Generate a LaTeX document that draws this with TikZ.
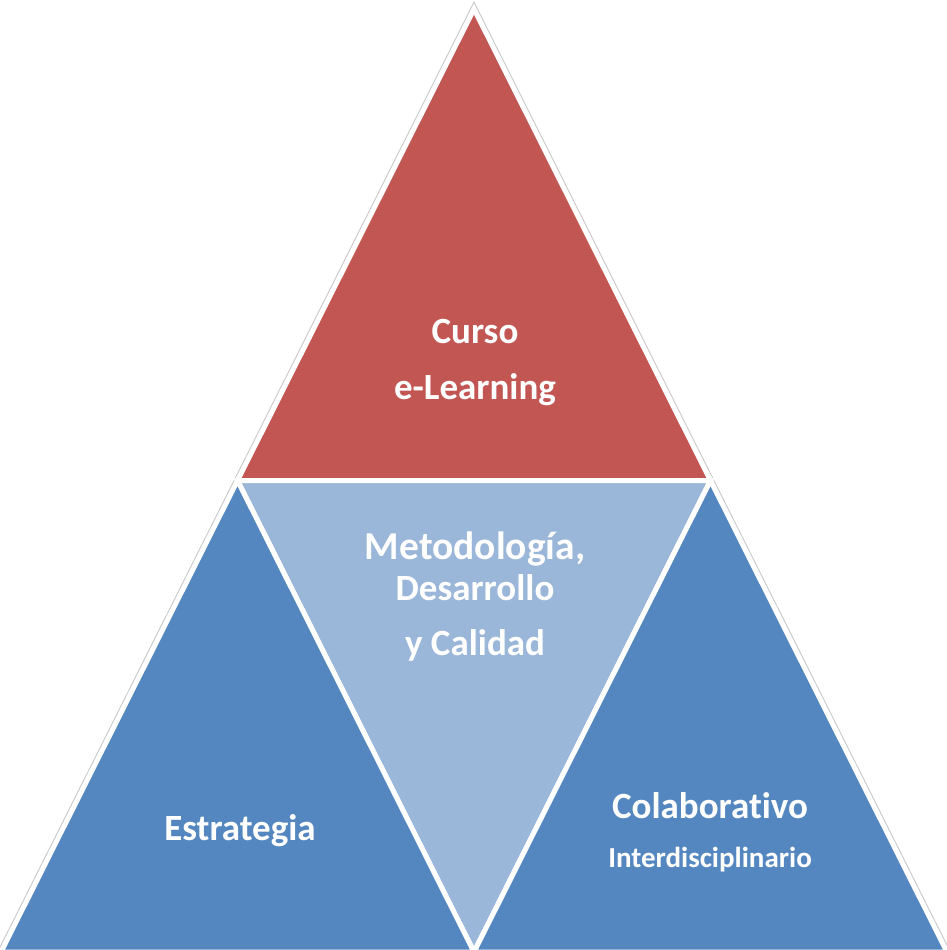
\documentclass[tikz,border=0pt]{standalone}
\usepackage{fontspec}
\setmainfont{Carlito}[Ligatures=NoCommon]
\usetikzlibrary{calc}
\definecolor{cred}{RGB}{194,86,83}
\definecolor{cblue}{RGB}{84,135,192}
\definecolor{clight}{RGB}{154,182,216}
\tikzset{
  tile/.style={draw=white, line width=5pt, line join=miter},
  lbl/.style={text=white, font=\bfseries\fontsize{37}{42}\selectfont, inner sep=0pt},
  lblbig/.style={text=white, font=\bfseries\fontsize{39.5}{44}\selectfont, inner sep=0pt},
  lblsmall/.style={text=white, font=\bfseries\fontsize{29}{33}\selectfont, inner sep=0pt}
}
\begin{document}
\begin{tikzpicture}[x=1pt,y=-1pt]
\useasboundingbox (0,0) rectangle (946,950);
\coordinate (P) at (474,9);
\coordinate (L) at (1,952);
\coordinate (R) at (947,952);
\coordinate (ML) at ($(P)!0.5!(L)$);
\coordinate (MR) at ($(P)!0.5!(R)$);
\coordinate (MB) at ($(L)!0.5!(R)$);
\draw[gray!45, line width=7pt, line join=miter] (P) -- (L) -- (R) -- cycle;
\fill[white] (P) -- (L) -- (R) -- cycle;
\filldraw[tile, fill=cred] (P) -- (ML) -- (MR) -- cycle;
\filldraw[tile, fill=clight] (ML) -- (MR) -- (MB) -- cycle;
\filldraw[tile, fill=cblue] (ML) -- (L) -- (MB) -- cycle;
\filldraw[tile, fill=cblue] (MR) -- (MB) -- (R) -- cycle;
\node[lbl] (curso) at (475,332) {Curso};
\node[lbl] (elearn) at (475,390) {e-Learning};
\node[lblbig] (metod) at (475,549) {Metodología,};
\node[lbl] (desar) at (475,588) {Desarrollo};
\node[lbl] (calid) at (475,645) {y Calidad};
\node[lbl] (estra) at (240,831) {Estrategia};
\node[lbl] (colab) at (710,806) {Colaborativo};
\node[lblsmall] (inter) at (710,860) {Interdisciplinario};
\end{tikzpicture}
\end{document}
